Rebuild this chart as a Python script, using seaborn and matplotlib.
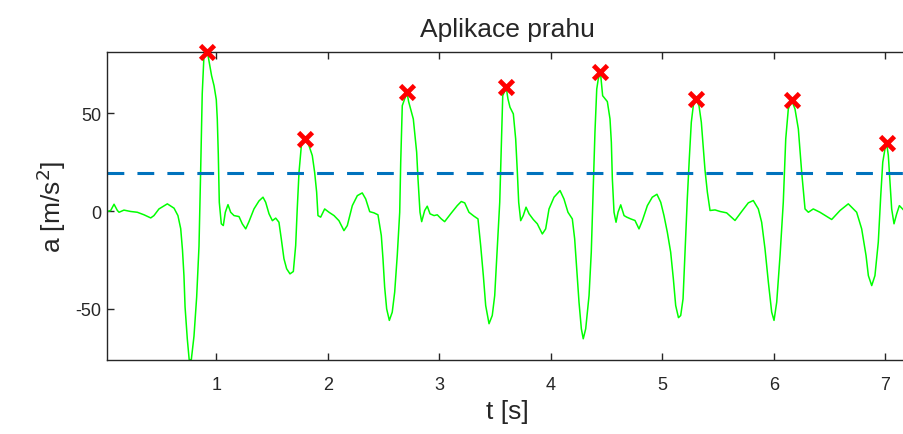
import numpy as np
import pandas as pd
import seaborn as sns
import matplotlib.pyplot as plt

# signal (time in s, acceleration in m/s^2)
t = [0.017, 0.053, 0.083, 0.113, 0.128, 0.172, 0.232, 0.292, 0.352, 0.412,
     0.441, 0.486, 0.561, 0.621, 0.656, 0.681, 0.697, 0.71, 0.72, 0.74,
     0.757, 0.776, 0.8, 0.824, 0.845, 0.86, 0.874, 0.89, 0.92, 0.94,
     0.958, 0.98, 1.0, 1.009, 1.018, 1.027, 1.045, 1.063, 1.081, 1.105,
     1.129, 1.159, 1.204, 1.233, 1.264, 1.293, 1.338, 1.383, 1.419, 1.443,
     1.473, 1.503, 1.533, 1.562, 1.583, 1.607, 1.631, 1.661, 1.691, 1.712,
     1.726, 1.742, 1.763, 1.80, 1.831, 1.861, 1.882, 1.9, 1.912, 1.936,
     1.972, 2.011, 2.056, 2.1, 2.145, 2.175, 2.22, 2.265, 2.309, 2.34,
     2.376, 2.414, 2.45, 2.48, 2.495, 2.51, 2.528, 2.552, 2.578, 2.6,
     2.623, 2.645, 2.654, 2.668, 2.71, 2.725, 2.743, 2.767, 2.797, 2.809,
     2.827, 2.842, 2.869, 2.892, 2.917, 2.953, 2.982, 3.018, 3.048, 3.102,
     3.161, 3.197, 3.228, 3.266, 3.311, 3.347, 3.371, 3.395, 3.416, 3.446,
     3.475, 3.497, 3.52, 3.542, 3.557, 3.569, 3.60, 3.616, 3.634, 3.664,
     3.685, 3.7, 3.712, 3.73, 3.753, 3.778, 3.805, 3.843, 3.879, 3.924,
     3.954, 3.984, 4.029, 4.083, 4.118, 4.154, 4.193, 4.214, 4.232, 4.253,
     4.274, 4.291, 4.313, 4.343, 4.363, 4.381, 4.396, 4.412, 4.426, 4.445,
     4.465, 4.507, 4.531, 4.543, 4.552, 4.567, 4.585, 4.603, 4.627, 4.657,
     4.681, 4.717, 4.755, 4.791, 4.821, 4.866, 4.91, 4.952, 4.986, 5.015,
     5.045, 5.075, 5.099, 5.12, 5.145, 5.165, 5.186, 5.204, 5.224, 5.242,
     5.26, 5.278, 5.30, 5.329, 5.35, 5.368, 5.383, 5.404, 5.428, 5.473,
     5.518, 5.577, 5.652, 5.712, 5.771, 5.816, 5.861, 5.891, 5.921, 5.951,
     5.981, 6.002, 6.026, 6.056, 6.085, 6.107, 6.13, 6.16, 6.19, 6.22,
     6.25, 6.28, 6.31, 6.354, 6.414, 6.519, 6.594, 6.668, 6.743, 6.788,
     6.827, 6.848, 6.878, 6.907, 6.937, 6.959, 6.977, 6.997, 7.012, 7.027,
     7.042, 7.057, 7.078, 7.102, 7.126, 7.168, 7.2]
a = [-0.3, 0.3, 3.5, 0.3, -0.6, 0.5, -0.2, -0.6, -1.9, -3.5,
     -2.3, 1.1, 3.7, 1.5, -2.3, -9.0, -20.0, -33.0, -49.0, -65.3,
     -76.0, -76.0, -64.0, -44.0, -18.0, 21.0, 60.0, 80.0, 81.5, 75.0,
     69.2, 64.1, 57.0, 47.1, 29.2, 4.5, -6.5, -7.4, -0.6, 3.3,
     -0.6, -2.3, -2.8, -6.5, -9.1, -5.4, 1.1, 5.2, 7.1, 4.5,
     -1.4, -4.9, -3.6, -5.7, -14.2, -24.4, -29.5, -32.1, -30.9, -17.6,
     1.1, 19.9, 33.5, 36.7, 33.5, 28.4, 19.9, 9.7, -2.3, -3.1,
     1.1, -0.6, -2.3, -4.9, -10.0, -7.4, 2.8, 7.9, 9.3, 6.2,
     -0.3, -0.9, -1.9, -12.5, -24.4, -38.9, -50.0, -55.9, -51.7, -41.4,
     -22.7, -0.6, 25.0, 53.9, 60.7, 56.0, 52.2, 47.1, 30.1, 16.5,
     -0.6, -5.4, 0.3, 2.5, -1.4, -2.3, -1.9, -4.0, -5.4, -1.4,
     2.8, 4.9, 4.2, -0.6, -2.6, -4.0, -17.6, -33.0, -48.3, -57.6,
     -53.4, -43.2, -19.3, 4.5, 35.2, 59.0, 63.3, 57.3, 53.1, 49.7,
     36.9, 19.9, 4.5, -4.9, -2.3, 2.0, -1.4, -4.3, -6.5, -11.7,
     -9.1, 1.1, 7.1, 10.5, 6.2, -0.6, -4.0, -14.2, -29.5, -46.6,
     -60.2, -65.3, -60.2, -43.2, -21.0, 13.0, 40.3, 62.4, 67.6, 71.0,
     59.0, 56.0, 47.1, 35.2, 16.5, -0.6, -5.7, -0.6, 3.2, -2.3,
     -3.1, -4.0, -4.8, -9.1, -4.9, 2.8, 7.1, 8.6, 4.5, -2.3,
     -10.8, -21.0, -34.6, -48.3, -54.5, -53.4, -44.9, -21.0, 6.2, 26.7,
     45.4, 53.9, 57.4, 53.9, 45.4, 31.8, 21.0, 9.7, 0.3, 0.6,
     -0.2, -0.9, -4.8, -0.2, 4.2, 5.4, 1.1, -5.7, -19.3, -36.3,
     -51.7, -55.9, -46.6, -22.7, 4.5, 36.9, 52.2, 56.8, 52.2, 42.0,
     19.9, 1.1, -0.6, 1.1, -0.6, -4.3, 0.3, 3.7, -0.6, -9.1,
     -22.7, -33.0, -38.1, -33.0, -15.9, 7.9, 25.0, 31.8, 34.7, 28.4,
     14.8, 1.1, -6.5, -1.4, 2.8, 0.3, 0.5]

# detected peaks above threshold
peak_t = [0.92, 1.80, 2.71, 3.60, 4.445, 5.30, 6.16, 7.012]
peak_a = [81.5, 36.7, 60.7, 63.3, 71.0, 57.4, 56.8, 34.7]
threshold = 19.5

x_ticks = [1, 2, 3, 4, 5, 6, 7]
y_ticks = [-50, 0, 50]

sns.set_style("white")
plt.rcParams['font.family'] = ['Liberation Sans', 'DejaVu Sans']
plt.rcParams.update({
    'xtick.direction': 'in', 'ytick.direction': 'in',
    'xtick.bottom': True, 'ytick.left': True,
    'xtick.top': True, 'ytick.right': False,
    'xtick.major.size': 5, 'ytick.major.size': 5,
    'xtick.color': '#262626', 'ytick.color': '#262626',
    'axes.edgecolor': '#262626',
    'axes.unicode_minus': False,
})

signal = pd.DataFrame({'t': t, 'a': a})
peaks = pd.DataFrame({'t': peak_t, 'a': peak_a})

fig = plt.figure(figsize=(9.04, 4.35), dpi=100)
ax = fig.add_axes([0.118, 0.1708, 0.886, 0.708])

sns.lineplot(data=signal, x='t', y='a', ax=ax, color='#00ff00',
             linewidth=1.1, sort=False, estimator=None)
ax.axhline(threshold, color='#0072bd', linewidth=2.2, dashes=(5.5, 4.3))
sns.scatterplot(data=peaks, x='t', y='a', ax=ax, marker='x', s=100,
                color='#ff0000', linewidth=3.4, zorder=5)
ax.collections[-1].set_clip_on(False)

ax.set_xlim(min(t), max(t))
ax.set_ylim(min(a), max(a))
ax.set_xticks(x_ticks)
ax.set_yticks(y_ticks)
ax.tick_params(labelsize=13, labelcolor='#262626', width=1)
ax.tick_params(axis='x', pad=12)
ax.tick_params(axis='y', pad=4)
for s in ax.spines.values():
    s.set_linewidth(1)

ax.set_title('Aplikace prahu', fontsize=19, color='#262626', pad=11)
ax.set_xlabel('t [s]', fontsize=19, color='#262626', labelpad=4)
ax.set_ylabel('a [m/s$^2$]', fontsize=19, color='#262626', labelpad=5)

plt.savefig('out.png', dpi=100)
